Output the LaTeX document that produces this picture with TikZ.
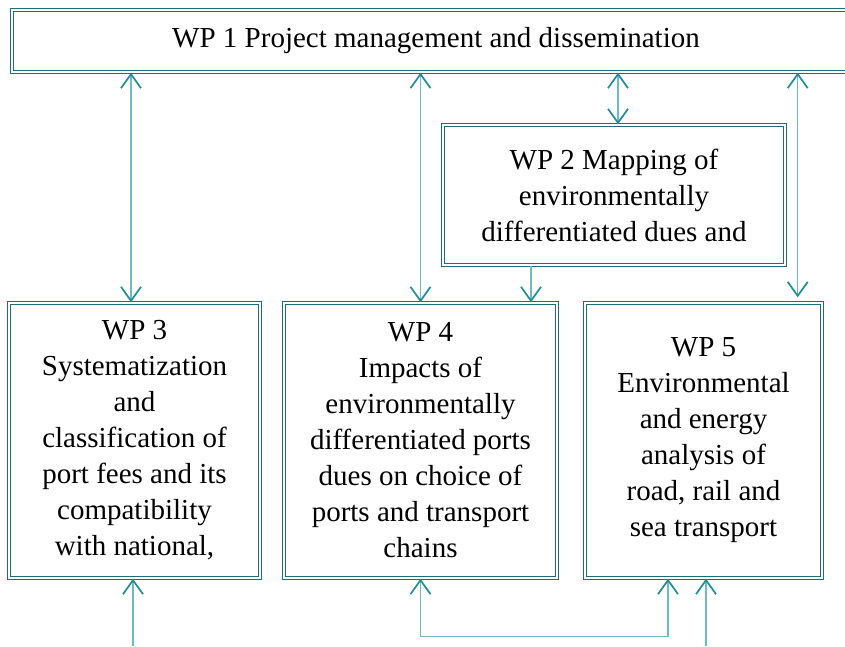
\documentclass[tikz,border=0pt]{standalone}
\usepackage{fontspec}
\setmainfont{Liberation Serif}
\usetikzlibrary{arrows.meta}
\definecolor{boxteal}{HTML}{1B6F79}
\definecolor{lineteal}{HTML}{6CBCC5}
\definecolor{headteal}{HTML}{1F8E99}

\begin{document}
\begin{tikzpicture}[x=1pt, y=-1pt,
  >={Straight Barb[length=14pt,width=20pt,line width=1.7pt,color=headteal]},
  wp/.style={draw=boxteal, double=white, double distance=1.5pt, line width=1.4pt,
    align=center, inner sep=0pt, font=\fontsize{29}{36}\selectfont},
  link/.style={draw=lineteal, line width=1.3pt}]
  \useasboundingbox (0,0) rectangle (845,646);
  % Work packages
  \node[wp, minimum width=848pt, minimum height=62pt] (wp1) at (436,41)
    {WP 1 Project management and dissemination};
  \node[wp, minimum width=342pt, minimum height=140pt] (wp2) at (614,195)
    {WP 2 Mapping of\\ environmentally\\ differentiated dues and};
  \node[wp, minimum width=251pt, minimum height=275pt] (wp3) at (134.5,440.5)
    {WP 3\\ Systematization\\ and\\ classification of\\ port fees and its\\ compatibility\\ with national,};
  \node[wp, minimum width=273pt, minimum height=275pt] (wp4) at (420.5,440.5)
    {WP 4\\ Impacts of\\ environmentally\\ differentiated ports\\ dues on choice of\\ ports and transport\\ chains};
  \node[wp, minimum width=237pt, minimum height=275pt] (wp5) at (703.5,440.5)
    {WP 5\\ Environmental\\ and energy\\ analysis of\\ road, rail and\\ sea transport};
  \coordinate (in3) at (133,646);
  \coordinate (in5) at (706,646);
  % Connections
  \draw[link, <->] ([xshift=-3.5pt]wp3.north) -- ([xshift=-3.5pt]wp3.north |- wp1.south);
  \draw[link, <->] (wp4.north) -- (wp4.north |- wp1.south);
  \draw[link, <->] ([xshift=4pt]wp2.north) -- ([xshift=4pt]wp2.north |- wp1.south);
  \draw[link, <->] ([xshift=-25pt,yshift=5pt]wp5.north east) -- ([xshift=-25pt]wp5.north east |- wp1.south);
  \draw[link, ->] ([xshift=-83pt]wp2.south) -- ([xshift=-83pt]wp2.south |- wp4.north);
  \draw[link, ->] (in3) -- (in3 |- wp3.south);
  \draw[link, ->] (in5) -- (in5 |- wp5.south);
  \draw[link, <->] (wp4.south) -- ++(0,58) -| ([xshift=-35.5pt]wp5.south);
\end{tikzpicture}
\end{document}
